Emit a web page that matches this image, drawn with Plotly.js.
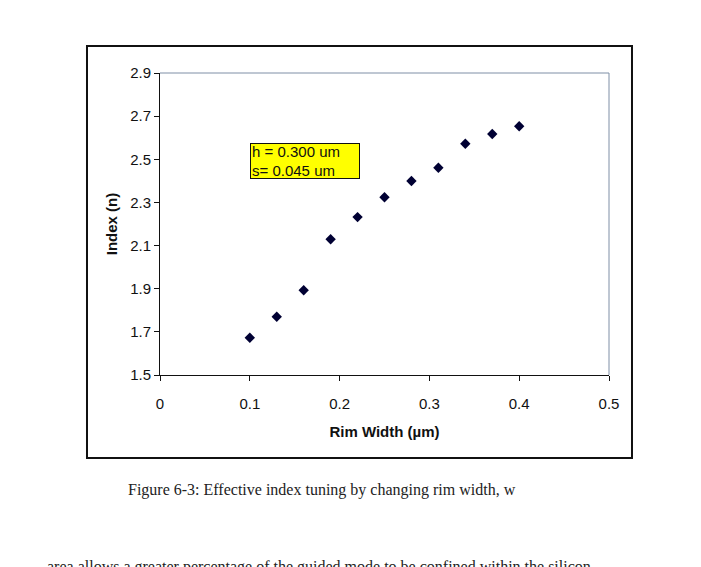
<!DOCTYPE html>
<html><head><meta charset="utf-8">
<script src="https://cdn.plot.ly/plotly-3.0.1.min.js"></script>
<style>html,body{margin:0;padding:0;background:#fff;}#chart{width:701px;height:567px;}</style>
</head><body><div id="chart"></div>
<script>
const rimWidth = [0.10, 0.13, 0.16, 0.19, 0.22, 0.25, 0.28, 0.31, 0.34, 0.37, 0.40];
const indexN   = [1.673, 1.770, 1.893, 2.129, 2.232, 2.324, 2.399, 2.461, 2.572, 2.617, 2.653];
const xTicks = [0, 0.1, 0.2, 0.3, 0.4, 0.5];
const xTickText = ['0', '0.1', '0.2', '0.3', '0.4', '0.5'];
const yTicks = [1.5, 1.7, 1.9, 2.1, 2.3, 2.5, 2.7, 2.9];
const yTickText = ['1.5', '1.7', '1.9', '2.1', '2.3', '2.5', '2.7', '2.9'];

const trace = {
  x: rimWidth, y: indexN, type: 'scatter', mode: 'markers',
  marker: {symbol: 'diamond', size: 8, color: '#000033'},
  hoverinfo: 'skip'
};
const layout = {
  width: 701, height: 567,
  margin: {l: 160, r: 92, t: 73, b: 192},
  paper_bgcolor: '#fff', plot_bgcolor: '#fff',
  showlegend: false,
  font: {family: 'Liberation Sans, Arial, sans-serif', color: '#111'},
  xaxis: {
    range: [0, 0.5], tickvals: xTicks, ticktext: xTickText,
    showgrid: false, zeroline: false, showline: true, linecolor: '#111', linewidth: 1,
    ticks: 'outside', ticklen: 5, tickcolor: '#111', ticklabelstandoff: 10,
    tickfont: {size: 15, color: '#111'},
    title: {text: '<b>Rim Width (µm)</b>', font: {size: 15, color: '#111'}, standoff: 15}
  },
  yaxis: {
    range: [1.5, 2.9], tickvals: yTicks, ticktext: yTickText,
    showgrid: false, zeroline: false, showline: true, linecolor: '#111', linewidth: 1,
    ticks: 'outside', ticklen: 5, tickcolor: '#111',
    tickfont: {size: 15, color: '#111'},
    title: {text: '<b>Index (n)</b>', font: {size: 15, color: '#111'}, standoff: 8}
  },
  shapes: [
    {type: 'rect', xref: 'paper', yref: 'paper', x0: -0.1626, x1: 1.0512, y0: -0.2748, y1: 1.0894,
     line: {color: '#111', width: 2}},
    {type: 'line', xref: 'paper', yref: 'paper', x0: 0, x1: 1, y0: 1, y1: 1, line: {color: '#7f8fa6', width: 1}},
    {type: 'line', xref: 'paper', yref: 'paper', x0: 1, x1: 1, y0: 0, y1: 1, line: {color: '#7f8fa6', width: 1}}
  ],
  annotations: [
    {xref: 'paper', yref: 'paper', x: 0.2004, y: 0.768, xanchor: 'left', yanchor: 'top',
     text: 'h = 0.300 um<br>s= 0.045 um', align: 'left', showarrow: false,
     width: 106, height: 32,
     bgcolor: '#ffff00', bordercolor: '#111', borderwidth: 1, borderpad: 1,
     font: {size: 15, color: '#111'}},
    {xref: 'paper', yref: 'paper', x: 0.36, y: -0.381, xanchor: 'center', yanchor: 'middle',
     text: 'Figure 6-3: Effective index tuning by changing rim width, w', showarrow: false,
     font: {family: 'Liberation Serif, DejaVu Serif, serif', size: 16, color: '#222'}},
    {xref: 'paper', yref: 'paper', x: -0.256, y: -0.6, xanchor: 'left', yanchor: 'top',
     text: 'area allows a greater percentage of the guided mode to be confined within the silicon', showarrow: false,
     font: {family: 'Liberation Serif, DejaVu Serif, serif', size: 16, color: '#222'}}
  ]
};
Plotly.newPlot('chart', [trace], layout, {displayModeBar: false, staticPlot: true});
</script></body></html>
